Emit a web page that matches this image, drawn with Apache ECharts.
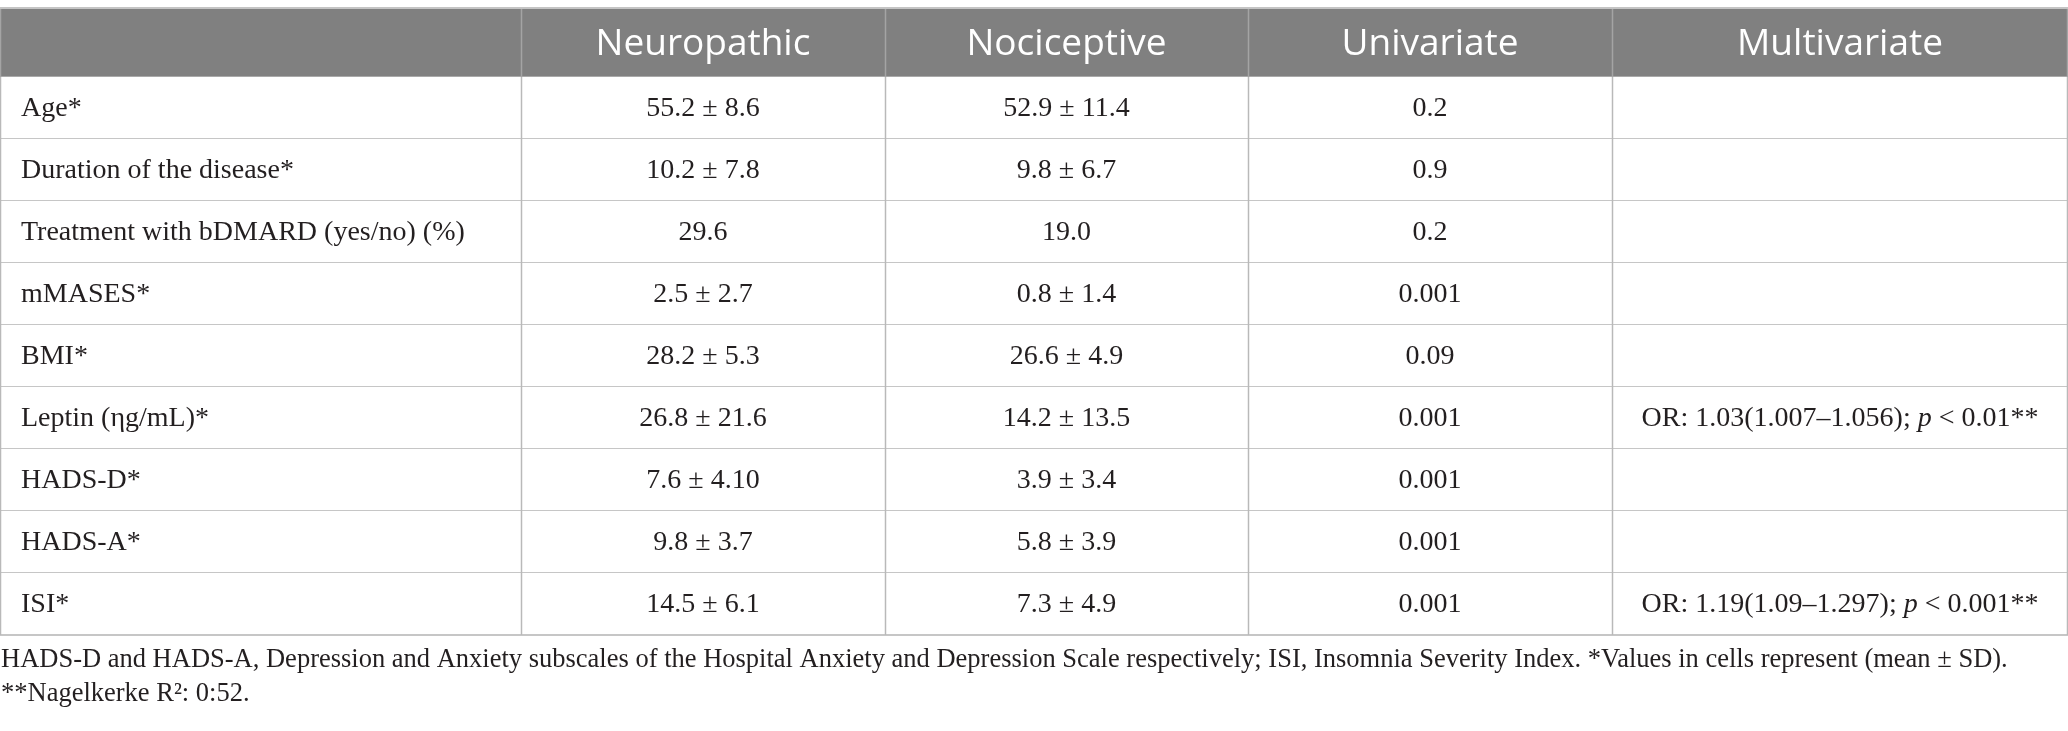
<!DOCTYPE html>
<html>
<head>
    <meta charset="UTF-8">
    <title>Neuropathic vs nociceptive</title>
    <script src="https://cdn.jsdelivr.net/npm/echarts@6/dist/echarts.min.js"></script>
    <style>
        html, body { margin: 0; padding: 0; background: #ffffff; }
        #main { width: 2068px; height: 731px; }
    </style>
</head>
<body>
<div id="main"></div>
<script type="text/javascript">
    // table content
    var headers = ['', 'Neuropathic', 'Nociceptive', 'Univariate', 'Multivariate'];
    var variables = ['Age*', 'Duration of the disease*', 'Treatment with bDMARD (yes/no) (%)', 'mMASES*', 'BMI*',
        'Leptin (ηg/mL)*', 'HADS-D*', 'HADS-A*', 'ISI*'];
    var neuropathic = ['55.2 ± 8.6', '10.2 ± 7.8', '29.6', '2.5 ± 2.7', '28.2 ± 5.3', '26.8 ± 21.6', '7.6 ± 4.10', '9.8 ± 3.7', '14.5 ± 6.1'];
    var nociceptive = ['52.9 ± 11.4', '9.8 ± 6.7', '19.0', '0.8 ± 1.4', '26.6 ± 4.9', '14.2 ± 13.5', '3.9 ± 3.4', '5.8 ± 3.9', '7.3 ± 4.9'];
    var univariate = ['0.2', '0.9', '0.2', '0.001', '0.09', '0.001', '0.001', '0.001', '0.001'];
    var multivariate = ['', '', '', '', '', 'OR: 1.03(1.007–1.056); p < 0.01**', '', '', 'OR: 1.19(1.09–1.297); p < 0.001**'];
    var footnotes = [
        'HADS-D and HADS-A, Depression and Anxiety subscales of the Hospital Anxiety and Depression Scale respectively; ISI, Insomnia Severity Index. *Values in cells represent (mean ± SD).',
        '**Nagelkerke R²: 0:52.'
    ];

    // layout (axis units = pixels of the table)
    var colEdges = [0, 521, 885, 1248, 1612, 2068];
    var headerH = 68, rowH = 62;
    var rowEdges = [0];
    rowEdges.push(headerH);
    for (var k = 0; k < variables.length; k++) rowEdges.push(headerH + rowH * (k + 1));

    var columns = [variables, neuropathic, nociceptive, univariate, multivariate];
    var cells = [];
    for (var c = 0; c < headers.length; c++) {
        cells.push([c, 0, headers[c]]);
        for (var r = 0; r < variables.length; r++) {
            cells.push([c, r + 1, columns[c][r]]);
        }
    }

    var myChart = echarts.init(document.getElementById('main'));

    function renderCell(params, api) {
        var c = api.value(0), r = api.value(1);
        var text = cells[params.dataIndex][2];
        var p0 = api.coord([colEdges[c], rowEdges[r]]);
        var p1 = api.coord([colEdges[c + 1], rowEdges[r + 1]]);
        var x = p0[0], y = p0[1], w = p1[0] - p0[0], h = p1[1] - p0[1];
        var isHead = r === 0;
        var children = [{
            type: 'rect',
            shape: {x: x, y: y, width: w, height: h},
            style: {fill: isHead ? '#808080' : '#ffffff'}
        }, {
            // bottom line
            type: 'line',
            shape: {x1: x, y1: y + h, x2: x + w, y2: y + h},
            style: {stroke: isHead ? '#a9a9a9' : '#c6c6c6', lineWidth: 2}
        }, {
            // left line
            type: 'line',
            shape: {x1: x + 0.5, y1: y, x2: x + 0.5, y2: y + h},
            style: {stroke: isHead ? '#a4a4a4' : '#b9b9b9', lineWidth: 1.5}
        }];
        if (c === headers.length - 1) {
            children.push({
                type: 'line',
                shape: {x1: x + w - 0.5, y1: y, x2: x + w - 0.5, y2: y + h},
                style: {stroke: isHead ? '#a4a4a4' : '#b9b9b9', lineWidth: 1.5}
            });
        }
        if (isHead) {
            children.push({
                type: 'line',
                shape: {x1: x, y1: y - 1, x2: x + w, y2: y - 1},
                style: {stroke: '#c4c4c4', lineWidth: 2}
            });
        }
        if (text) {
            var left = c === 0;
            children.push({
                type: 'text',
                style: {
                    x: left ? x + 21 : x + w / 2,
                    y: y + h / 2 + 1,
                    text: text.replace('; p <', '; {i|p} <'),
                    align: left ? 'left' : 'center',
                    verticalAlign: 'middle',
                    fill: isHead ? '#ffffff' : '#231f20',
                    fontFamily: isHead ? 'Open Sans' : 'Liberation Serif',
                    fontSize: isHead ? 37 : 28,
                    rich: {
                        i: {fontFamily: 'Liberation Serif', fontSize: 28, fontStyle: 'italic', fill: '#231f20'}
                    }
                }
            });
        }
        return {type: 'group', children: children};
    }

    var option = {
        animation: false,
        grid: {left: 0, right: 0, top: 9, bottom: 96},
        xAxis: {type: 'value', min: 0, max: colEdges[colEdges.length - 1], show: false},
        yAxis: {type: 'value', min: 0, max: rowEdges[rowEdges.length - 1], inverse: true, show: false},
        graphic: [{
            type: 'text', left: 1, top: 647,
            style: {text: footnotes[0], fontFamily: 'Liberation Serif', fontSize: 26.5, fill: '#231f20'}
        }, {
            type: 'text', left: 1, top: 681,
            style: {text: footnotes[1], fontFamily: 'Liberation Serif', fontSize: 26.5, fill: '#231f20'}
        }],
        series: [{
            type: 'custom',
            renderItem: renderCell,
            data: cells.map(function (d) { return [d[0], d[1]]; }),
            clip: false
        }]
    };
    myChart.setOption(option);
</script>
</body>
</html>
